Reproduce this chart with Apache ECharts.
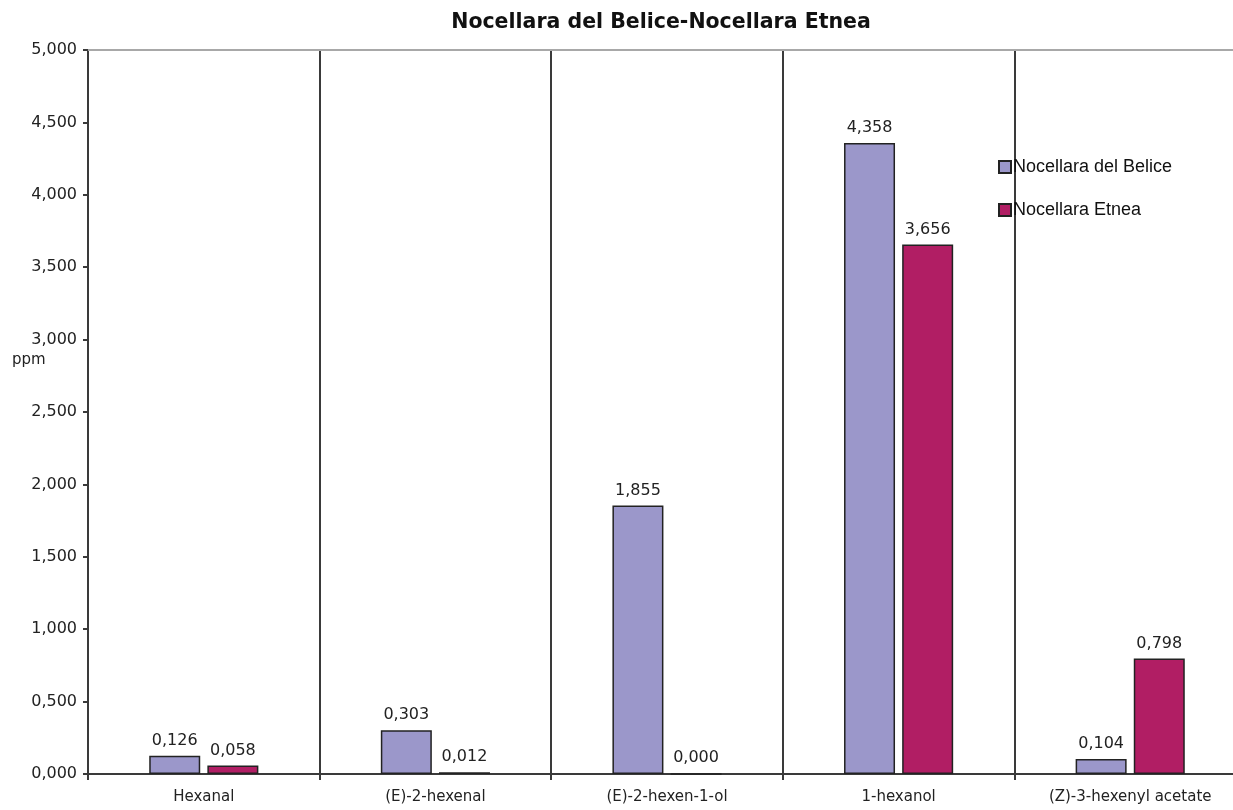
<!DOCTYPE html>
<html>
<head>
<meta charset="utf-8">
<script src="https://cdn.jsdelivr.net/npm/echarts@6/dist/echarts.min.js"></script>
<style>
  html, body { margin: 0; padding: 0; background: #ffffff; }
  #chart { width: 1233px; height: 810px; }
</style>
</head>
<body>
<div id="chart"></div>
<script>
// Volatile compounds (ppm) in two olive cultivars
const categories = ['Hexanal', '(E)-2-hexenal', '(E)-2-hexen-1-ol', '1-hexanol', '(Z)-3-hexenyl acetate'];
const seriesNames = ['Nocellara del Belice', 'Nocellara Etnea'];
const beliceValues = [0.126, 0.303, 1.855, 4.358, 0.104];
const etneaValues = [0.058, 0.012, 0.000, 3.656, 0.798];
const chartTitle = 'Nocellara del Belice-Nocellara Etnea';
const yAxisName = 'ppm';

// Numbers are written with a decimal comma and three decimals
const fmt = v => Number(v).toFixed(3).replace('.', ',');

const FONT = 'DejaVu Sans';
const AXIS_DARK = '#3a3a3a';

const chart = echarts.init(document.getElementById('chart'));

const labelStyle = {
  show: true,
  position: 'top',
  distance: 7,
  color: '#222',
  fontFamily: FONT,
  fontSize: 16,
  formatter: p => fmt(p.value)
};

chart.setOption({
  backgroundColor: '#ffffff',
  animation: false,
  title: {
    text: chartTitle,
    left: 656,
    top: 7,
    textAlign: 'center',
    textStyle: { fontFamily: FONT, fontWeight: 'bold', fontSize: 20.5, color: '#111' }
  },
  legend: {
    orient: 'vertical',
    left: 993,
    top: 153,
    itemWidth: 12,
    itemHeight: 12,
    itemGap: 25,
    icon: 'rect',
    data: seriesNames,
    textStyle: { fontFamily: 'Liberation Sans', fontSize: 18, color: '#111', padding: [0, 0, 0, -3] }
  },
  graphic: [{
    type: 'text',
    left: 12,
    top: 353,
    style: { text: yAxisName, fontFamily: FONT, fontSize: 15, fill: '#222' }
  }],
  // the last category runs a little past the right edge of the page
  grid: { left: 88, top: 50, right: -13, bottom: 36, containLabel: false, outerBoundsMode: 'none' },
  xAxis: [{
    type: 'category',
    data: categories,
    position: 'bottom',
    axisLine: { lineStyle: { color: AXIS_DARK, width: 2 } },
    axisTick: { show: true, length: 6, lineStyle: { color: AXIS_DARK, width: 2 } },
    axisLabel: { margin: 16, fontFamily: FONT, fontSize: 15, color: '#222', interval: 0 },
    splitLine: { show: true, interval: 0, lineStyle: { color: AXIS_DARK, width: 2 } }
  }, {
    type: 'category',
    data: categories,
    position: 'top',
    axisLine: { show: true, lineStyle: { color: '#a8a8a8', width: 2 } },
    axisTick: { show: false },
    axisLabel: { show: false },
    splitLine: { show: false }
  }],
  yAxis: {
    type: 'value',
    min: 0,
    max: 5,
    interval: 0.5,
    axisLine: { show: true, lineStyle: { color: AXIS_DARK, width: 2 } },
    axisTick: { show: true, length: 5, lineStyle: { color: AXIS_DARK, width: 2 } },
    axisLabel: { margin: 11, fontFamily: FONT, fontSize: 16, color: '#222', formatter: v => fmt(v) },
    splitLine: { show: false }
  },
  series: [{
    name: seriesNames[0],
    type: 'bar',
    data: beliceValues,
    barWidth: 51,
    barGap: '14%',
    itemStyle: { color: '#9b97ca', borderColor: '#222', borderWidth: 1.5 },
    label: labelStyle
  }, {
    name: seriesNames[1],
    type: 'bar',
    data: etneaValues,
    barWidth: 51,
    barGap: '14%',
    itemStyle: { color: '#b11e64', borderColor: '#222', borderWidth: 1.5 },
    label: labelStyle
  }]
});
</script>
</body>
</html>
